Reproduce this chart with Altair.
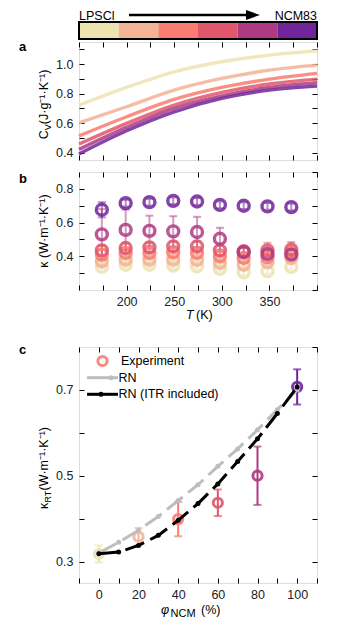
import altair as alt
import pandas as pd

FONT = "Liberation Sans"
FS = 12.5
W = 238
H_BAR, H_A, H_B, H_C = 17, 118, 118, 236

# ---------------- data ----------------
SERIES = ["0", "20", "40", "60", "80", "100"]
COLORS = ["#EDE3B0", "#F4B297", "#F97D70", "#E0566B", "#AE3A82", "#70249A"]
BAR_LEFT = "LPSCl"
BAR_RIGHT = "NCM83"

# panel a : heat capacity
CV_T = [150, 200, 250, 300, 350, 400]
CV_0 = [0.722, 0.842, 0.948, 1.016, 1.061, 1.090]
CV_20 = [0.603, 0.711, 0.824, 0.903, 0.959, 0.993]
CV_40 = [0.513, 0.643, 0.761, 0.842, 0.898, 0.937]
CV_60 = [0.458, 0.598, 0.722, 0.808, 0.865, 0.898]
CV_80 = [0.422, 0.571, 0.700, 0.785, 0.842, 0.874]
CV_100 = [0.391, 0.548, 0.677, 0.768, 0.824, 0.851]

# panel b : thermal conductivity vs T
K_T = [174, 199, 224, 249, 274, 298, 323, 348, 373]
K_0 = [0.337, 0.350, 0.350, 0.345, 0.340, 0.325, 0.305, 0.311, 0.337]
K_20 = [0.370, 0.380, 0.380, 0.380, 0.378, 0.360, 0.350, 0.365, 0.390]
K_40 = [0.410, 0.420, 0.420, 0.423, 0.420, 0.400, 0.390, 0.395, 0.420]
K_60 = [0.435, 0.449, 0.453, 0.459, 0.459, 0.435, 0.430, 0.435, 0.440]
K_80 = [0.530, 0.557, 0.551, 0.548, 0.544, 0.504, 0.425, 0.414, 0.410]
K_100 = [0.676, 0.715, 0.721, 0.729, 0.725, 0.705, 0.700, 0.696, 0.692]
E_0 = [0.015] * 9
E_20 = [0.02] * 9
E_40 = [0.03, 0.03, 0.03, 0.03, 0.03, 0.03, 0.03, 0.04, 0.04]
E_60 = [0.03, 0.03, 0.03, 0.03, 0.03, 0.03, 0.03, 0.045, 0.045]
E_80 = [0.15, 0.12, 0.09, 0.09, 0.09, 0.065, 0.025, 0.025, 0.025]
E_100 = [0.045, 0.02, 0.02, 0.02, 0.02, 0.02, 0.02, 0.02, 0.02]

# panel c : room temperature conductivity vs NCM fraction
EXP_PHI = [0, 20, 40, 60, 80, 100]
EXP_K = [0.3175, 0.358, 0.399, 0.437, 0.500, 0.707]
EXP_ERR = [0.02, 0.02, 0.04, 0.031, 0.068, 0.041]
RN_PHI = [0, 10, 20, 30, 40, 50, 60, 70, 80, 90, 100]
RN_K = [0.320, 0.345, 0.373, 0.405, 0.442, 0.479, 0.522, 0.5625, 0.607, 0.654, 0.700]
ITR_K = [0.318, 0.322, 0.3375, 0.361, 0.396, 0.435, 0.481, 0.533, 0.586, 0.645, 0.707]

LEGEND = ["Experiment", "RN", "RN (ITR included)"]

A_X_TICKS = [150, 175, 200, 225, 250, 275, 300, 325, 350, 375, 400]
A_Y_TICKS = [0.4, 0.5, 0.6, 0.7, 0.8, 0.9, 1.0, 1.1]
B_Y_TICKS = [0.3, 0.4, 0.5, 0.6, 0.7, 0.8]
B_Y_FRAME = [0.2, 0.3, 0.4, 0.5, 0.6, 0.7, 0.8, 0.9]
C_X_TICKS = [-10, 0, 10, 20, 30, 40, 50, 60, 70, 80, 90, 100, 110]
C_Y_TICKS = [0.3, 0.4, 0.5, 0.6, 0.7]
C_Y_FRAME = [0.3, 0.4, 0.5, 0.6, 0.7, 0.8]

# ---------------- frames ----------------
ONE = pd.DataFrame({"k": [0]})
cv_df = pd.DataFrame([
    {"T": t, "v": v, "s": s}
    for s, vals in zip(SERIES, [CV_0, CV_20, CV_40, CV_60, CV_80, CV_100])
    for t, v in zip(CV_T, vals)
])
kb_rows = []
for s, vals, errs in zip(SERIES, [K_0, K_20, K_40, K_60, K_80, K_100],
                         [E_0, E_20, E_40, E_60, E_80, E_100]):
    for t, v, e in zip(K_T, vals, errs):
        kb_rows.append({"T": t, "v": v, "lo": v - e, "hi": v + e, "s": s})
kb_df = pd.DataFrame(kb_rows)
exp_df = pd.DataFrame({"phi": EXP_PHI, "k": EXP_K,
                       "lo": [k - e for k, e in zip(EXP_K, EXP_ERR)],
                       "hi": [k + e for k, e in zip(EXP_K, EXP_ERR)],
                       "s": SERIES})
rn_df = pd.DataFrame({"phi": RN_PHI, "k": RN_K})
itr_df = pd.DataFrame({"phi": RN_PHI, "k": ITR_K})
bar_df = pd.DataFrame({"s": SERIES})

COLOR = alt.Color("s:N", scale=alt.Scale(domain=SERIES, range=COLORS), legend=None)


def axis(orient, values, fmt=None, shown=None, pad=6):
    kw = dict(orient=orient, values=values, offset=-5, tickSize=5, tickWidth=1,
              tickColor="black", domain=False, grid=False, title=None,
              labelFont=FONT, labelFontSize=FS, labelColor="#222",
              labelPadding=pad, labelOverlap=False, labelFlush=False, labelBound=False,
              minExtent=0)
    if shown is None:
        kw["labels"] = False
    else:
        kw["format"] = fmt
        kw["labelExpr"] = "indexof([%s], datum.label) >= 0 ? datum.label : ''" % ",".join(
            "'%s'" % s for s in shown)
    return alt.Axis(**kw)


def txt(s, x, y, size=FS, angle=0, align="left", baseline="alphabetic",
        weight="normal", style="normal", color="black"):
    return alt.Chart(ONE).mark_text(
        text=s, fontSize=size, angle=angle, align=align, baseline=baseline,
        fontWeight=weight, fontStyle=style, font=FONT, color=color
    ).encode(x=alt.value(x), y=alt.value(y))


def spacer(y1, y2, x=0):
    return alt.Chart(ONE).mark_rule(opacity=0, color="white").encode(
        x=alt.value(x), y=alt.value(y1), y2=alt.value(y2))


def frame_axes(df, xf, yf, xs, ys, xt, yt):
    return alt.Chart(df).mark_point(opacity=0).encode(
        x=alt.X(xf, scale=xs, axis=axis("top", xt)),
        y=alt.Y(yf, scale=ys, axis=axis("right", yt)))


XS_T = alt.Scale(domain=[150, 400], nice=False, zero=False)

# ---------------- colour bar ----------------
rects = alt.Chart(bar_df).mark_rect().encode(
    x=alt.X("s:N", sort=SERIES, axis=None,
            scale=alt.Scale(paddingInner=0, paddingOuter=0)),
    color=COLOR)
border = alt.Chart(ONE).mark_rect(fillOpacity=0, stroke="black", strokeWidth=2).encode(
    x=alt.value(0), x2=alt.value(W), y=alt.value(0), y2=alt.value(H_BAR))
arrow_line = alt.Chart(ONE).mark_rule(strokeWidth=2.5, color="black").encode(
    x=alt.value(50), x2=alt.value(168), y=alt.value(-7))
arrow_head = alt.Chart(ONE).mark_point(
    shape="M -1 -0.7 L 1 0 L -1 0.7 Z", filled=True, color="black", opacity=1, size=196
).encode(x=alt.value(174), y=alt.value(-7))
bar = alt.layer(
    rects, border, arrow_line, arrow_head,
    txt(BAR_LEFT, 0, -2.3, size=12.5),
    txt(BAR_RIGHT, W, -2.3, size=12.5, align="right"),
    spacer(0, H_BAR, x=-60),
).properties(width=W, height=H_BAR, view=alt.ViewConfig(strokeWidth=0))

# ---------------- panel a ----------------
YS_A = alt.Scale(domain=[0.35, 1.15], nice=False, zero=False)
lines_a = alt.Chart(cv_df).mark_line(strokeWidth=3.4, opacity=0.85, interpolate="monotone").encode(
    x=alt.X("T:Q", scale=XS_T, axis=axis("bottom", A_X_TICKS)),
    y=alt.Y("v:Q", scale=YS_A, axis=axis("left", A_Y_TICKS, ".1f", ["0.4", "0.6", "0.8", "1.0"])),
    color=COLOR)
panel_a = alt.layer(
    lines_a,
    frame_axes(cv_df, "T:Q", "v:Q", XS_T, YS_A, A_X_TICKS, A_Y_TICKS),
    txt("a", -60, 8.5, size=13, weight="bold"),
    txt("C", -31.5, 97.2, angle=270),
    txt("V", -28.5, 88.2, size=9, angle=270),
    txt(" (J·g⁻¹·K⁻¹)", -31.5, 82.2, angle=270),
    spacer(-1.5, H_A + 7),
).resolve_axis(x="independent", y="independent").properties(width=W, height=H_A)

# ---------------- panel b ----------------
YS_B = alt.Scale(domain=[0.2, 0.9], nice=False, zero=False)
err_b = alt.Chart(kb_df).mark_rule(strokeWidth=2, opacity=0.5).encode(
    x=alt.X("T:Q", scale=XS_T, axis=None),
    y=alt.Y("lo:Q", scale=YS_B, axis=None), y2="hi:Q", color=COLOR)
cap_b_hi = alt.Chart(kb_df).mark_tick(orient="horizontal", size=8, thickness=2, opacity=0.5).encode(
    x=alt.X("T:Q", scale=XS_T, axis=None),
    y=alt.Y("hi:Q", scale=YS_B, axis=None), color=COLOR)
cap_b_lo = alt.Chart(kb_df).mark_tick(orient="horizontal", size=8, thickness=2, opacity=0.5).encode(
    x=alt.X("T:Q", scale=XS_T, axis=None),
    y=alt.Y("lo:Q", scale=YS_B, axis=None), color=COLOR)
pts_b = alt.Chart(kb_df).mark_point(shape="circle", filled=False, size=120,
                                    strokeWidth=3.4, opacity=0.85).encode(
    x=alt.X("T:Q", scale=XS_T, axis=axis("bottom", A_X_TICKS, "d", ["200", "250", "300", "350"], pad=5.5)),
    y=alt.Y("v:Q", scale=YS_B, axis=axis("left", B_Y_TICKS, ".1f", ["0.4", "0.6", "0.8"])),
    color=COLOR)
panel_b = alt.layer(
    err_b, cap_b_hi, cap_b_lo, pts_b,
    frame_axes(kb_df, "T:Q", "v:Q", XS_T, YS_B, A_X_TICKS, B_Y_FRAME),
    txt("b", -60, 11, size=13, weight="bold"),
    txt("κ (W·m⁻¹·K⁻¹)", -31.5, H_B / 2, angle=270, align="center"),
    txt("T", 107, H_B + 29, style="italic"),
    txt("(K)", 117, H_B + 29),
    spacer(-3, H_B + 52),
).resolve_axis(x="independent", y="independent").properties(width=W, height=H_B)

# ---------------- panel c ----------------
XS_C = alt.Scale(domain=[-10, 110], nice=False, zero=False)
YS_C = alt.Scale(domain=[0.25, 0.8], nice=False, zero=False)
err_c = alt.Chart(exp_df).mark_rule(strokeWidth=2).encode(
    x=alt.X("phi:Q", scale=XS_C, axis=None),
    y=alt.Y("lo:Q", scale=YS_C, axis=None), y2="hi:Q", color=COLOR)
cap_c_hi = alt.Chart(exp_df).mark_tick(orient="horizontal", size=8, thickness=2).encode(
    x=alt.X("phi:Q", scale=XS_C, axis=None),
    y=alt.Y("hi:Q", scale=YS_C, axis=None), color=COLOR)
cap_c_lo = alt.Chart(exp_df).mark_tick(orient="horizontal", size=8, thickness=2).encode(
    x=alt.X("phi:Q", scale=XS_C, axis=None),
    y=alt.Y("lo:Q", scale=YS_C, axis=None), color=COLOR)
pts_c = alt.Chart(exp_df).mark_point(shape="circle", filled=False, size=85,
                                     strokeWidth=3, opacity=0.9).encode(
    x=alt.X("phi:Q", scale=XS_C, axis=axis("bottom", C_X_TICKS, "d",
                                           ["0", "20", "40", "60", "80", "100"], pad=5.5)),
    y=alt.Y("k:Q", scale=YS_C, axis=axis("left", C_Y_TICKS, ".1f", ["0.3", "0.5", "0.7"])),
    color=COLOR)


def model_line(df, col):
    ln = alt.Chart(df).mark_line(color=col, strokeWidth=3, strokeDash=[20, 7]).encode(
        x=alt.X("phi:Q", scale=XS_C, axis=None), y=alt.Y("k:Q", scale=YS_C, axis=None))
    dots = alt.Chart(df).mark_point(filled=True, color=col, opacity=1, size=25).encode(
        x=alt.X("phi:Q", scale=XS_C, axis=None), y=alt.Y("k:Q", scale=YS_C, axis=None))
    return ln + dots


leg_circle = alt.Chart(ONE).mark_point(shape="circle", filled=False, size=85, strokeWidth=3,
                                       color=COLORS[2], opacity=0.9).encode(
    x=alt.value(23.5), y=alt.value(14))
leg_rn = alt.Chart(ONE).mark_rule(color="#BDBDBD", strokeWidth=3).encode(
    x=alt.value(8), x2=alt.value(39), y=alt.value(30.7))
leg_rn_dot = alt.Chart(ONE).mark_point(filled=True, color="#BDBDBD", opacity=1, size=25).encode(
    x=alt.value(32), y=alt.value(30.7))
leg_itr = alt.Chart(ONE).mark_rule(color="black", strokeWidth=3).encode(
    x=alt.value(8), x2=alt.value(39), y=alt.value(47.3))
leg_itr_dot = alt.Chart(ONE).mark_point(filled=True, color="black", opacity=1, size=25).encode(
    x=alt.value(22), y=alt.value(47.3))

panel_c = alt.layer(
    err_c, cap_c_hi, cap_c_lo, pts_c,
    model_line(rn_df, "#BDBDBD"), model_line(itr_df, "black"),
    frame_axes(exp_df, "phi:Q", "k:Q", XS_C, YS_C, C_X_TICKS, C_Y_FRAME),
    leg_circle, leg_rn, leg_rn_dot, leg_itr, leg_itr_dot,
    txt(LEGEND[0], 42, 14, baseline="middle"),
    txt(LEGEND[1], 39.5, 30.7, baseline="middle"),
    txt(LEGEND[2], 39.5, 47.3, baseline="middle"),
    txt("c", -60, 6.5, size=13, weight="bold"),
    txt("κ", -31.5, 162, angle=270),
    txt("RT", -28.5, 155.5, size=9, angle=270),
    txt(" (W·m⁻¹·K⁻¹)", -31.5, 143.5, angle=270),
    txt("φ", 82, H_C + 31, style="italic"),
    txt("NCM", 91.5, H_C + 33.5, size=11),
    txt("(%)", 122, H_C + 31),
    spacer(-3, H_C),
).resolve_axis(x="independent", y="independent").properties(width=W, height=H_C)

chart = alt.vconcat(bar, panel_a, panel_b, panel_c, spacing=0).properties(
    padding={"left": 10, "top": 1, "right": 5, "bottom": 0}
).configure_view(stroke="black", strokeWidth=1.2).configure(font=FONT)

chart.save("out.html", embed_options={"renderer": "svg", "actions": False})
